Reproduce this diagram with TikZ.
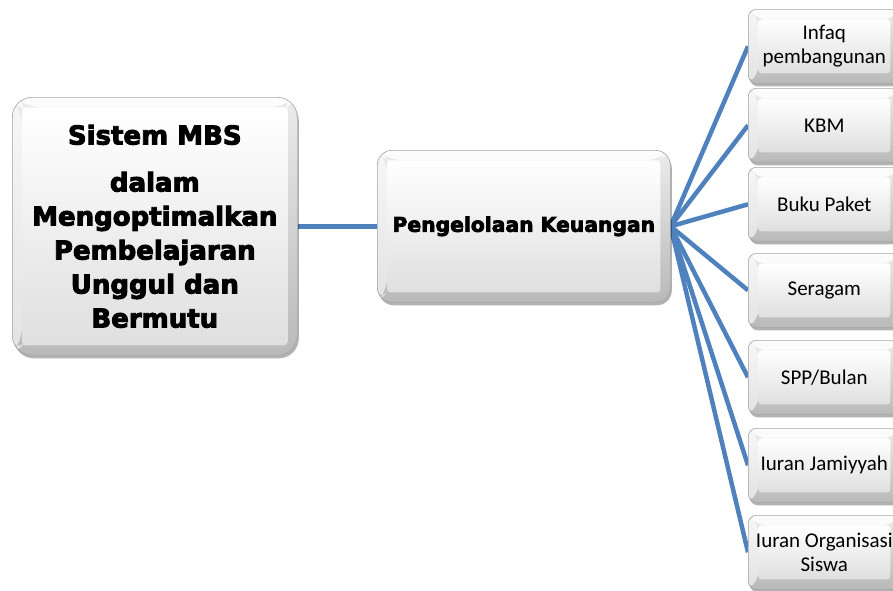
\documentclass[tikz,border=0pt]{standalone}
\usepackage{fontspec}
\setmainfont{Carlito}
\newfontfamily\heavy[BoldFeatures={FakeBold=3.5}]{DejaVu Sans}
\usetikzlibrary{shadows,backgrounds,calc}
\definecolor{linkblue}{HTML}{4F81BD}
\tikzset{
  bevelbox/.style={draw=gray!70, line width=0.6pt, rounded corners=#1, inner sep=0pt, align=center,
    drop shadow={shadow xshift=1.5pt, shadow yshift=-3pt, opacity=0.3, fill=black},
    path picture={
      \shade[top color=gray!15, bottom color=gray!55] (path picture bounding box.south west) rectangle (path picture bounding box.north east);
      \fill[white, opacity=0.85] (path picture bounding box.north west) -- (path picture bounding box.north east) -- ([shift={(-10pt,-10pt)}]path picture bounding box.north east) -- ([shift={(10pt,-10pt)}]path picture bounding box.north west) -- cycle;
      \fill[white, opacity=0.6] (path picture bounding box.north west) -- ([shift={(10pt,-10pt)}]path picture bounding box.north west) -- ([shift={(10pt,10pt)}]path picture bounding box.south west) -- (path picture bounding box.south west) -- cycle;
      \shade[top color=white, bottom color=gray!25, rounded corners=3pt] ([shift={(10pt,10pt)}]path picture bounding box.south west) rectangle ([shift={(-10pt,-10pt)}]path picture bounding box.north east);
    }},
  bigtext/.style={font=\heavy\bfseries\fontsize{26}{34}\selectfont},
  midtext/.style={font=\heavy\bfseries\fontsize{20.3}{24}\selectfont},
  leaf/.style={bevelbox=8pt, minimum width=152pt, minimum height=74pt, anchor=north west, font=\fontsize{21}{24}\selectfont},
  conn/.style={draw=linkblue, line width=4.5pt}
}
\begin{document}
\begin{tikzpicture}[x=1pt, y=-1pt]
\useasboundingbox (0,0) rectangle (893,590);
\clip (0,0) rectangle (893,590);
\node[bevelbox=20pt, minimum width=285pt, minimum height=258pt, anchor=north west, bigtext] (sys) at (12,97)
  {Sistem MBS\\[13pt]dalam\\Mengoptimalkan\\Pembelajaran\\Unggul dan\\Bermutu};
\node[bevelbox=15pt, minimum width=293pt, minimum height=152pt, anchor=north west, midtext] (mid) at (377,150)
  {Pengelolaan Keuangan};
\node[leaf] (r1) at (748,9) {Infaq\\pembangunan};
\node[leaf] (r2) at (748,88) {KBM};
\node[leaf] (r3) at (748,167) {Buku Paket};
\node[leaf] (r4) at (748,253) {Seragam};
\node[leaf] (r5) at (748,340) {SPP/Bulan};
\node[leaf] (r6) at (748,428) {Iuran Jamiyyah};
\node[leaf] (r7) at (748,515) {Iuran Organisasi\\Siswa};
\begin{pgfonlayer}{background}
\draw[conn] (sys.east) -- (mid.west);
\foreach \r in {r1,r2,r3,r4,r5,r6,r7}
  \draw[conn] (mid.east) -- (\r.west);
\end{pgfonlayer}
\end{tikzpicture}
\end{document}
